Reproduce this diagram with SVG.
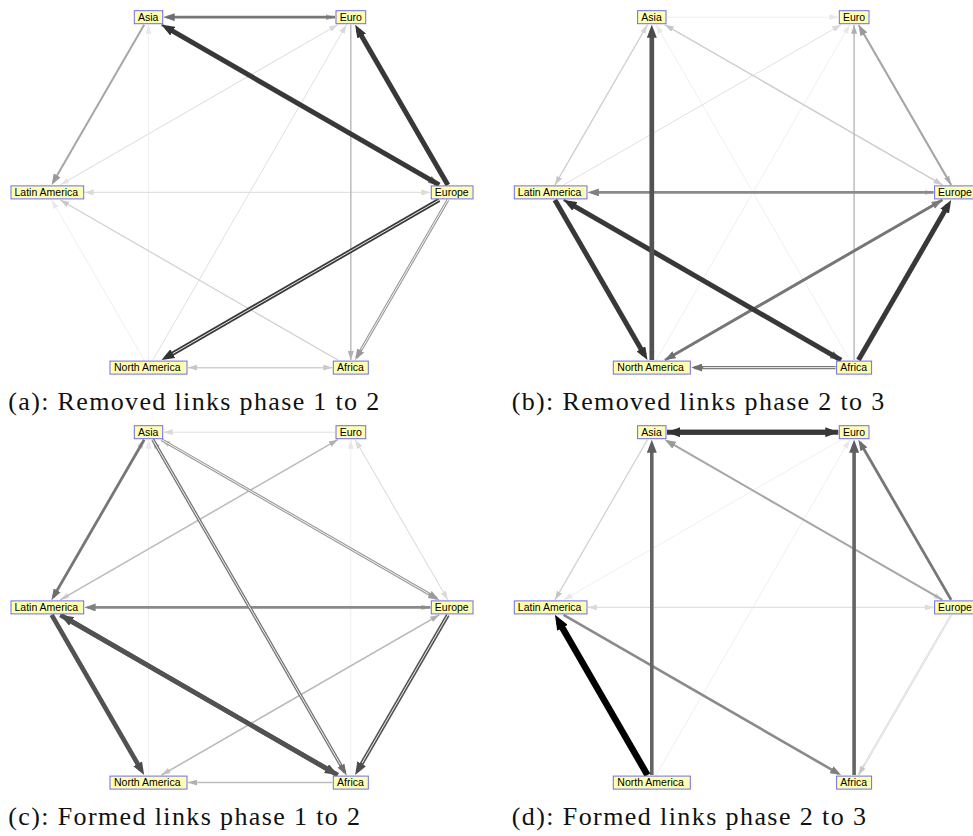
<svg xmlns="http://www.w3.org/2000/svg" width="973" height="836" viewBox="0 0 973 836">
  <style>
    line { fill: none; stroke-linecap: butt; }
    .w0 { stroke: #efefef; stroke-width: 1; marker-end: url(#m0); }
    .w1 { stroke: #e0e0e0; stroke-width: 1; marker-end: url(#m1); }
    .w2 { stroke: #cfcfcf; stroke-width: 1.2; marker-end: url(#m2); }
    .w3 { stroke: #bcbcbc; stroke-width: 1.5; marker-end: url(#m3); }
    .w4 { stroke: #a6a6a6; stroke-width: 2; marker-end: url(#m4); }
    .w5 { stroke: #8a8a8a; stroke-width: 2.6; marker-end: url(#m5); }
    .w6 { stroke: #777777; stroke-width: 2.8; marker-end: url(#m6); }
    .w7 { stroke: #646464; stroke-width: 3.6; marker-end: url(#m7); }
    .w8 { stroke: #525252; stroke-width: 4.7; marker-end: url(#m8); }
    .w9 { stroke: #383838; stroke-width: 5; marker-end: url(#m9); }
    .w10 { stroke: #000000; stroke-width: 6.5; marker-end: url(#m10); }
    /* double-stroke links: coloured stroke with a white core drawn over it */
    .dA { stroke: #9a9a9a; stroke-width: 3; marker-end: url(#m4); }
    .dB { stroke: #777777; stroke-width: 3.4; marker-end: url(#m6); }
    .dC { stroke: #555555; stroke-width: 4; marker-end: url(#m8); }
    .dD { stroke: #3a3a3a; stroke-width: 4.3; marker-end: url(#m9); }
    .dE { stroke: #d6d6d6; stroke-width: 2; marker-end: url(#m2); }
    .wh { stroke: #ffffff; stroke-width: 0.9; }
    .wh.thin { stroke-width: 0.6; }
    .nd rect { fill: #ffffb0; stroke: #6b6bff; stroke-width: 1; }
    .nd text { font-family: "Liberation Sans", Arial, sans-serif; font-size: 10.5px; fill: #000000; }
    .cap { font-family: "Liberation Serif", "Times New Roman", serif; font-size: 26px; fill: #111111; }
  </style>
  <defs>
    <!-- small heads: tip sits on the line end -->
    <marker id="m0" markerUnits="userSpaceOnUse" markerWidth="9" markerHeight="6" viewBox="0 0 9 6" refX="9" refY="3" orient="auto"><path d="M0,0L9,3L0,6z" fill="#e8e8e8"/></marker>
    <marker id="m1" markerUnits="userSpaceOnUse" markerWidth="9" markerHeight="6" viewBox="0 0 9 6" refX="9" refY="3" orient="auto"><path d="M0,0L9,3L0,6z" fill="#d9d9d9"/></marker>
    <marker id="m2" markerUnits="userSpaceOnUse" markerWidth="9" markerHeight="6" viewBox="0 0 9 6" refX="9" refY="3" orient="auto"><path d="M0,0L9,3L0,6z" fill="#c6c6c6"/></marker>
    <marker id="m3" markerUnits="userSpaceOnUse" markerWidth="9" markerHeight="6" viewBox="0 0 9 6" refX="9" refY="3" orient="auto"><path d="M0,0L9,3L0,6z" fill="#b0b0b0"/></marker>
    <!-- medium heads: tip 3px past the line end -->
    <marker id="m4" markerUnits="userSpaceOnUse" markerWidth="11" markerHeight="8" viewBox="0 0 11 8" refX="8" refY="4" orient="auto"><path d="M0,0L11,4L0,8z" fill="#9a9a9a"/></marker>
    <marker id="m5" markerUnits="userSpaceOnUse" markerWidth="11" markerHeight="8" viewBox="0 0 11 8" refX="8" refY="4" orient="auto"><path d="M0,0L11,4L0,8z" fill="#808080"/></marker>
    <marker id="m6" markerUnits="userSpaceOnUse" markerWidth="11" markerHeight="8" viewBox="0 0 11 8" refX="8" refY="4" orient="auto"><path d="M0,0L11,4L0,8z" fill="#6e6e6e"/></marker>
    <!-- large heads: tip 6px past the line end -->
    <marker id="m7" markerUnits="userSpaceOnUse" markerWidth="13" markerHeight="10" viewBox="0 0 13 10" refX="7" refY="5" orient="auto"><path d="M0,0L13,5L0,10z" fill="#5e5e5e"/></marker>
    <marker id="m8" markerUnits="userSpaceOnUse" markerWidth="13" markerHeight="10" viewBox="0 0 13 10" refX="7" refY="5" orient="auto"><path d="M0,0L13,5L0,10z" fill="#4c4c4c"/></marker>
    <marker id="m9" markerUnits="userSpaceOnUse" markerWidth="13" markerHeight="10" viewBox="0 0 13 10" refX="7" refY="5" orient="auto"><path d="M0,0L13,5L0,10z" fill="#333333"/></marker>
    <marker id="m10" markerUnits="userSpaceOnUse" markerWidth="15" markerHeight="12" viewBox="0 0 15 12" refX="7" refY="6" orient="auto"><path d="M0,0L15,6L0,12z" fill="#000000"/></marker>
  </defs>

  <rect x="0" y="0" width="973" height="836" fill="#ffffff"/>

  <!-- ===== (a) removed links, phase 1 to 2 ===== -->
  <g id="panel-a">
    <g id="a-connectors">
      <line class="w0" x1="144.17" y1="360.1" x2="51.63" y2="199.9"/>
      <line class="w0" x1="148.5" y1="360.1" x2="148.5" y2="24.7"/>
      <line class="w0" x1="337.81" y1="24.7" x2="60.29" y2="184.9"/>
      <line class="w1" x1="60.29" y1="184.9" x2="337.81" y2="24.7"/>
      <line class="w1" x1="84.6" y1="192.4" x2="430.3" y2="192.4"/>
      <line class="w1" x1="430.3" y1="192.4" x2="84.6" y2="192.4"/>
      <line class="w1" x1="152.83" y1="360.1" x2="346.47" y2="24.7"/>
      <line class="w2" x1="337.81" y1="360.1" x2="60.29" y2="199.9"/>
      <line class="w2" x1="188" y1="367.6" x2="332.3" y2="367.6"/>
      <line class="w2" x1="332.3" y1="367.6" x2="188" y2="367.6"/>
      <line class="w3" x1="163.7" y1="17.2" x2="335" y2="17.2"/>
      <line class="w3" x1="350.8" y1="24.7" x2="350.8" y2="360.1"/>
      <line class="w4" x1="144.17" y1="24.7" x2="53.13" y2="182.3"/>
      <line class="w6" x1="335" y1="17.2" x2="166.7" y2="17.2"/>
      <line class="w5" x1="161.5" y1="24.7" x2="436.6" y2="183.4"/>
      <line class="dA" x1="447.86" y1="199.9" x2="356.64" y2="357.5"/>
      <line class="wh" x1="447.86" y1="199.9" x2="361.15" y2="349.71"/>
      <line class="dD" x1="439.2" y1="199.9" x2="166.7" y2="357.1"/>
      <line class="wh" x1="439.2" y1="199.9" x2="172.76" y2="353.6"/>
      <line class="w9" x1="439.2" y1="184.9" x2="166.7" y2="27.7"/>
      <line class="w9" x1="447.86" y1="184.9" x2="358.14" y2="29.9"/>
    </g>
    <g id="a-asia" class="nd"><rect x="134.3" y="10.7" width="28.4" height="13"/><text x="138" y="20.9">Asia</text></g>
    <g id="a-euro" class="nd"><rect x="336" y="10.7" width="29.7" height="13"/><text x="339.7" y="20.9">Euro</text></g>
    <g id="a-latin-america" class="nd"><rect x="11" y="185.9" width="72.7" height="13"/><text x="14.5" y="196.1">Latin America</text></g>
    <g id="a-europe" class="nd"><rect x="431.3" y="185.9" width="41.7" height="13"/><text x="434.8" y="196.1">Europe</text></g>
    <g id="a-north-america" class="nd"><rect x="110" y="361.1" width="77" height="13"/><text x="114" y="371.3">North America</text></g>
    <g id="a-africa" class="nd"><rect x="333.3" y="361.1" width="35" height="13"/><text x="337" y="371.3">Africa</text></g>
    <text class="cap" x="8.3" y="409.5" textLength="371" lengthAdjust="spacing">(a): Removed links phase 1 to 2</text>
  </g>

  <!-- ===== (b) removed links, phase 2 to 3 ===== -->
  <g id="panel-b" transform="translate(503.3,0)">
    <g id="b-connectors">
      <line class="w0" x1="163.7" y1="17.2" x2="335" y2="17.2"/>
      <line class="w0" x1="346.47" y1="360.1" x2="152.83" y2="24.7"/>
      <line class="w0" x1="152.83" y1="360.1" x2="346.47" y2="24.7"/>
      <line class="w1" x1="60.29" y1="184.9" x2="337.81" y2="24.7"/>
      <line class="w1" x1="148.5" y1="24.7" x2="148.5" y2="360.1"/>
      <line class="w1" x1="84.6" y1="192.4" x2="430.3" y2="192.4"/>
      <line class="w1" x1="51.63" y1="184.9" x2="144.17" y2="24.7"/>
      <line class="w2" x1="144.17" y1="24.7" x2="51.63" y2="184.9"/>
      <line class="w2" x1="161.5" y1="24.7" x2="439.2" y2="184.9"/>
      <line class="w2" x1="439.2" y1="184.9" x2="161.5" y2="24.7"/>
      <line class="w3" x1="350.8" y1="360.1" x2="350.8" y2="24.7"/>
      <line class="w3" x1="355.14" y1="24.7" x2="447.86" y2="184.9"/>
      <line class="w4" x1="447.86" y1="184.9" x2="356.64" y2="27.3"/>
      <line class="w5" x1="430.3" y1="192.4" x2="87.6" y2="192.4"/>
      <line class="w5" x1="161.5" y1="360.1" x2="436.6" y2="201.4"/>
      <line class="w6" x1="439.2" y1="199.9" x2="164.1" y2="358.6"/>
      <line class="dB" x1="332.3" y1="367.6" x2="191" y2="367.6"/>
      <line class="wh" x1="332.3" y1="367.6" x2="200" y2="367.6"/>
      <line class="w6" x1="60.29" y1="199.9" x2="335.2" y2="358.6"/>
      <line class="w9" x1="337.81" y1="360.1" x2="65.49" y2="202.9"/>
      <line class="w9" x1="51.63" y1="199.9" x2="141.17" y2="354.9"/>
      <line class="w8" x1="148.5" y1="360.1" x2="148.5" y2="30.7"/>
      <line class="w9" x1="355.14" y1="360.1" x2="444.86" y2="205.1"/>
    </g>
    <g id="b-asia" class="nd"><rect x="134.3" y="10.7" width="28.4" height="13"/><text x="138" y="20.9">Asia</text></g>
    <g id="b-euro" class="nd"><rect x="336" y="10.7" width="29.7" height="13"/><text x="339.7" y="20.9">Euro</text></g>
    <g id="b-latin-america" class="nd"><rect x="11" y="185.9" width="72.7" height="13"/><text x="14.5" y="196.1">Latin America</text></g>
    <g id="b-europe" class="nd"><rect x="431.3" y="185.9" width="41.7" height="13"/><text x="434.8" y="196.1">Europe</text></g>
    <g id="b-north-america" class="nd"><rect x="110" y="361.1" width="77" height="13"/><text x="114" y="371.3">North America</text></g>
    <g id="b-africa" class="nd"><rect x="333.3" y="361.1" width="35" height="13"/><text x="337" y="371.3">Africa</text></g>
    <text class="cap" x="8.4" y="409.5" textLength="372.6" lengthAdjust="spacing">(b): Removed links phase 2 to 3</text>
  </g>

  <!-- ===== (c) formed links, phase 1 to 2 ===== -->
  <g id="panel-c" transform="translate(0,415)">
    <g id="c-connectors">
      <line class="w0" x1="148.5" y1="360.1" x2="148.5" y2="24.7"/>
      <line class="w0" x1="350.8" y1="360.1" x2="350.8" y2="24.7"/>
      <line class="w1" x1="335" y1="17.2" x2="163.7" y2="17.2"/>
      <line class="w1" x1="447.86" y1="184.9" x2="355.14" y2="24.7"/>
      <line class="w1" x1="355.14" y1="24.7" x2="447.86" y2="184.9"/>
      <line class="w1" x1="337.81" y1="24.7" x2="60.29" y2="184.9"/>
      <line class="w3" x1="60.29" y1="184.9" x2="337.81" y2="24.7"/>
      <line class="w2" x1="439.2" y1="199.9" x2="161.5" y2="360.1"/>
      <line class="w3" x1="161.5" y1="360.1" x2="439.2" y2="199.9"/>
      <line class="w3" x1="332.3" y1="367.6" x2="188" y2="367.6"/>
      <line class="w2" x1="51.63" y1="184.9" x2="144.17" y2="24.7"/>
      <line class="w2" x1="84.6" y1="192.4" x2="430.3" y2="192.4"/>
      <line class="w5" x1="430.3" y1="192.4" x2="87.6" y2="192.4"/>
      <line class="w2" x1="439.2" y1="184.9" x2="161.5" y2="24.7"/>
      <line class="dA" x1="161.5" y1="24.7" x2="436.6" y2="183.4"/>
      <line class="wh" x1="161.5" y1="24.7" x2="428.8" y2="178.9"/>
      <line class="w3" x1="346.47" y1="360.1" x2="152.83" y2="24.7"/>
      <line class="dB" x1="152.83" y1="24.7" x2="344.97" y2="357.5"/>
      <line class="wh" x1="152.83" y1="24.7" x2="340.47" y2="349.7"/>
      <line class="w6" x1="144.17" y1="24.7" x2="53.13" y2="182.3"/>
      <line class="w8" x1="60.29" y1="199.9" x2="332.61" y2="357.1"/>
      <line class="w8" x1="337.81" y1="360.1" x2="65.49" y2="202.9"/>
      <line class="w8" x1="51.63" y1="199.9" x2="141.17" y2="354.9"/>
      <line class="dC" x1="447.86" y1="199.9" x2="358.14" y2="354.9"/>
      <line class="wh" x1="447.86" y1="199.9" x2="362.14" y2="347.98"/>
    </g>
    <g id="c-asia" class="nd"><rect x="134.3" y="10.7" width="28.4" height="13"/><text x="138" y="20.9">Asia</text></g>
    <g id="c-euro" class="nd"><rect x="336" y="10.7" width="29.7" height="13"/><text x="339.7" y="20.9">Euro</text></g>
    <g id="c-latin-america" class="nd"><rect x="11" y="185.9" width="72.7" height="13"/><text x="14.5" y="196.1">Latin America</text></g>
    <g id="c-europe" class="nd"><rect x="431.3" y="185.9" width="41.7" height="13"/><text x="434.8" y="196.1">Europe</text></g>
    <g id="c-north-america" class="nd"><rect x="110" y="361.1" width="77" height="13"/><text x="114" y="371.3">North America</text></g>
    <g id="c-africa" class="nd"><rect x="333.3" y="361.1" width="35" height="13"/><text x="337" y="371.3">Africa</text></g>
    <text class="cap" x="8.3" y="409.5" textLength="351.7" lengthAdjust="spacing">(c): Formed links phase 1 to 2</text>
  </g>

  <!-- ===== (d) formed links, phase 2 to 3 ===== -->
  <g id="panel-d" transform="translate(503.3,415)">
    <g id="d-connectors">
      <line class="w0" x1="152.83" y1="360.1" x2="346.47" y2="24.7"/>
      <line class="w0" x1="337.81" y1="24.7" x2="60.29" y2="184.9"/>
      <line class="w1" x1="84.6" y1="192.4" x2="430.3" y2="192.4"/>
      <line class="w1" x1="430.3" y1="192.4" x2="84.6" y2="192.4"/>
      <line class="w2" x1="144.17" y1="24.7" x2="51.63" y2="184.9"/>
      <line class="w1" x1="161.5" y1="24.7" x2="439.2" y2="184.9"/>
      <line class="dE" x1="447.86" y1="199.9" x2="355.14" y2="360.1"/>
      <line class="wh thin" x1="447.86" y1="199.9" x2="361.15" y2="349.71"/>
      <line class="w4" x1="439.2" y1="184.9" x2="164.1" y2="26.2"/>
      <line class="w5" x1="60.29" y1="199.9" x2="335.2" y2="358.6"/>
      <line class="w6" x1="447.86" y1="184.9" x2="356.64" y2="27.3"/>
      <line class="w7" x1="148.5" y1="360.1" x2="148.5" y2="30.7"/>
      <line class="w7" x1="350.8" y1="360.1" x2="350.8" y2="30.7"/>
      <line class="w9" x1="163.7" y1="17.2" x2="329" y2="17.2"/>
      <line class="w9" x1="335" y1="17.2" x2="169.7" y2="17.2"/>
      <line class="w10" x1="144.17" y1="360.1" x2="55.63" y2="206.8"/>
    </g>
    <g id="d-asia" class="nd"><rect x="134.3" y="10.7" width="28.4" height="13"/><text x="138" y="20.9">Asia</text></g>
    <g id="d-euro" class="nd"><rect x="336" y="10.7" width="29.7" height="13"/><text x="339.7" y="20.9">Euro</text></g>
    <g id="d-latin-america" class="nd"><rect x="11" y="185.9" width="72.7" height="13"/><text x="14.5" y="196.1">Latin America</text></g>
    <g id="d-europe" class="nd"><rect x="431.3" y="185.9" width="41.7" height="13"/><text x="434.8" y="196.1">Europe</text></g>
    <g id="d-north-america" class="nd"><rect x="110" y="361.1" width="77" height="13"/><text x="114" y="371.3">North America</text></g>
    <g id="d-africa" class="nd"><rect x="333.3" y="361.1" width="35" height="13"/><text x="337" y="371.3">Africa</text></g>
    <text class="cap" x="8.4" y="409.5" textLength="354.3" lengthAdjust="spacing">(d): Formed links phase 2 to 3</text>
  </g>
</svg>
